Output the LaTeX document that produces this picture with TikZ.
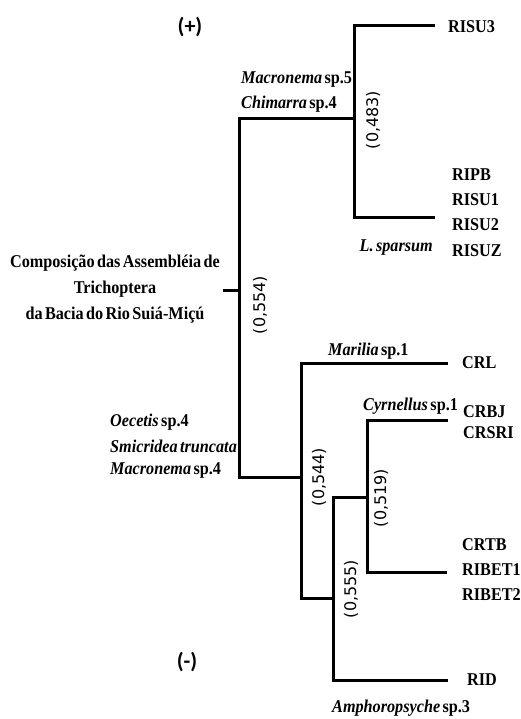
\documentclass[tikz,border=0pt]{standalone}
\usepackage{fontspec}
\setmainfont{Liberation Serif}[FakeStretch=0.9,WordSpace=0.6]
\newfontfamily\numfont{DejaVu Sans}
\newfontfamily\pmfont{Carlito}
\begin{document}
\begin{tikzpicture}[x=1pt,y=-1pt,
  branch/.style={line width=3pt,line join=miter},
  lab/.style={font=\bfseries\fontsize{18}{20}\selectfont,inner sep=0pt},
  val/.style={font=\numfont\fontsize{16}{17}\selectfont,inner sep=0pt,rotate=90},
  sign/.style={font=\pmfont\bfseries\fontsize{22}{24}\selectfont,inner sep=0pt}]
\useasboundingbox (0,0) rectangle (521,719);
% tree coordinates
\coordinate (root) at (223,290);
\coordinate (n0) at (239,290);
\coordinate (aTop) at (239,119);
\coordinate (aBot) at (239,477);
\coordinate (b) at (354,119);
\coordinate (bTop) at (354,26);
\coordinate (bBot) at (354,218);
\coordinate (lRISU3) at (435,26);
\coordinate (lRISU2) at (435,218);
\coordinate (c) at (301,477);
\coordinate (cTop) at (301,363);
\coordinate (cBot) at (301,598);
\coordinate (lCRL) at (448,363);
\coordinate (d) at (333,598);
\coordinate (dTop) at (333,497);
\coordinate (dBot) at (333,680);
\coordinate (lRID) at (448,680);
\coordinate (e) at (367,497);
\coordinate (eTop) at (367,420);
\coordinate (eBot) at (367,572);
\coordinate (lCRBJ) at (448,420);
\coordinate (lRIBET) at (447,572);
% branches
\draw[branch] (root) -- (n0);
\draw[branch] (b) -- (aTop) -- (aBot) -- (c);
\draw[branch] (lRISU3) -- (bTop) -- (bBot) -- (lRISU2);
\draw[branch] (lCRL) -- (cTop) -- (cBot) -- (d);
\draw[branch] (e) -- (dTop) -- (dBot) -- (lRID);
\draw[branch] (lCRBJ) -- (eTop) -- (eBot) -- (lRIBET);
% signs
\node[sign] (plus) at (190,27) {(+)};
\node[sign] (minus) at (187,662) {(-)};
% title
\node[lab,align=center] (title) at (115,289) {Composição das Assembléia de\\[6pt]Trichoptera\\[6pt]da Bacia do Rio Suiá-Miçú};
% values
\node[val] (v483) at (373,120) {(0,483)};
\node[val] (v554) at (260,305) {(0,554)};
\node[val] (v544) at (319,477) {(0,544)};
\node[val] (v519) at (381,498) {(0,519)};
\node[val] (v555) at (351,589) {(0,555)};
% species
\node[lab,anchor=west] (sp1) at (241,80) {\textit{Macronema} sp.5};
\node[lab,anchor=west] (sp2) at (241,104) {\textit{Chimarra} sp.4};
\node[lab,anchor=east] (sp3) at (433,248) {\textit{L. sparsum}};
\node[lab,anchor=west] (sp4) at (328,351) {\textit{Marilia} sp.1};
\node[lab,anchor=west] (sp5) at (363,406) {\textit{Cyrnellus} sp.1};
\node[lab,anchor=west] (sp6) at (110,422) {\textit{Oecetis} sp.4};
\node[lab,anchor=west] (sp7) at (110,446) {\textit{Smicridea truncata}};
\node[lab,anchor=west] (sp8) at (110,470) {\textit{Macronema} sp.4};
\node[lab,anchor=west] (sp9) at (332,708) {\textit{Amphoropsyche} sp.3};
% sites
\node[lab,anchor=west] (s1) at (448,27) {RISU3};
\node[lab,anchor=west] (s2) at (452,175) {RIPB};
\node[lab,anchor=west] (s3) at (452,200) {RISU1};
\node[lab,anchor=west] (s4) at (452,225) {RISU2};
\node[lab,anchor=west] (s5) at (452,251) {RISUZ};
\node[lab,anchor=west] (s6) at (462,363) {CRL};
\node[lab,anchor=west] (s7) at (463,412) {CRBJ};
\node[lab,anchor=west] (s8) at (463,433) {CRSRI};
\node[lab,anchor=west] (s9) at (462,545) {CRTB};
\node[lab,anchor=west] (s10) at (462,570) {RIBET1};
\node[lab,anchor=west] (s11) at (462,595) {RIBET2};
\node[lab,anchor=west] (s12) at (467,680) {RID};
\end{tikzpicture}
\end{document}
